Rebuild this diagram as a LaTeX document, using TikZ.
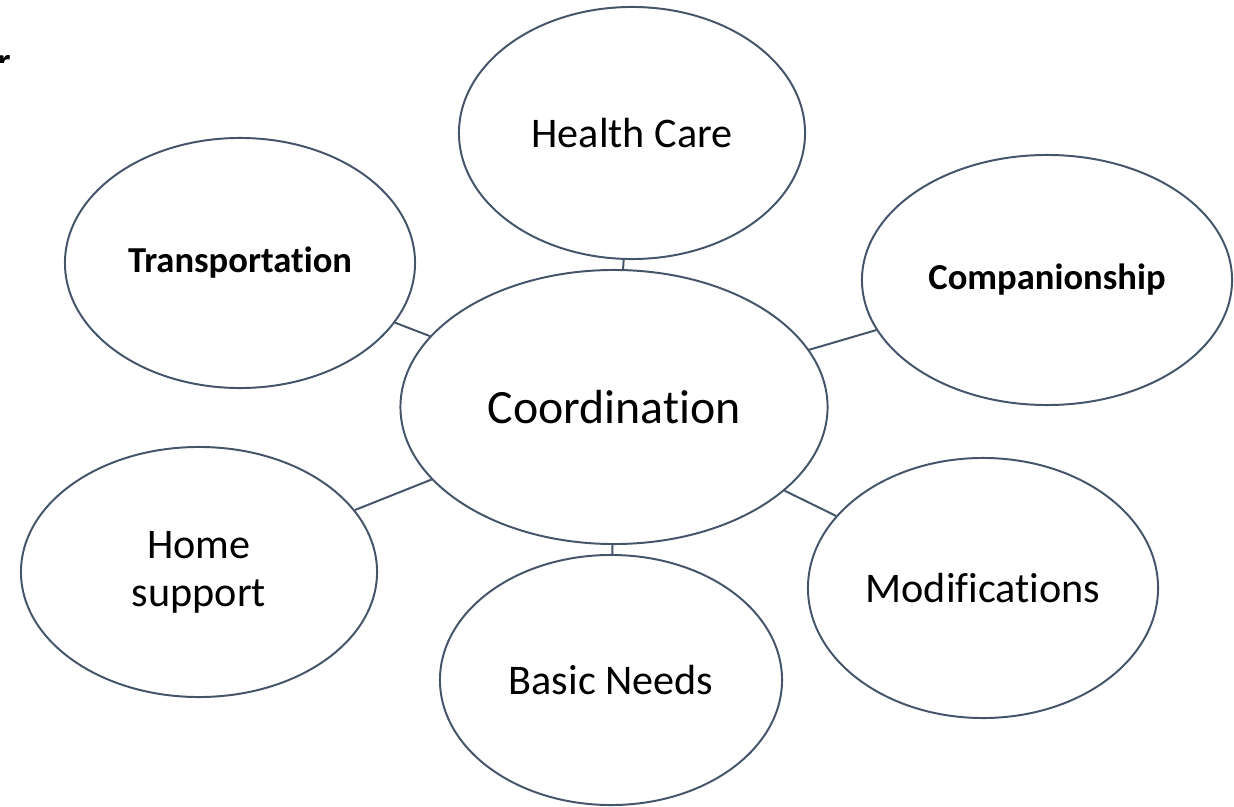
\documentclass[tikz,border=0pt]{standalone}
\usepackage{fontspec}
\setmainfont{Carlito}[Ligatures=NoCommon]
\usepackage{tikz}
\usetikzlibrary{shapes.geometric}
\definecolor{rim}{HTML}{44546A}

\begin{document}
\begin{tikzpicture}[x=0.025cm,y=-0.025cm,inner sep=0mm,
  bubble/.style={ellipse,draw=rim,line width=1.4pt,align=center,font=\fontsize{30}{34}\selectfont},
  boldbubble/.style={bubble,font=\fontsize{26}{30}\selectfont\bfseries},
  link/.style={draw=rim,line width=1.4pt}]
\useasboundingbox (0,0) rectangle (1234,807);
%Node Coordinates
\node at (614,407) [bubble,minimum width=10.675cm,minimum height=6.85cm,font=\fontsize{34}{40}\selectfont] (Coord) {Coordination};
\node at (632,133) [bubble,minimum width=8.65cm,minimum height=6.3cm] (Health) {Health Care};
\node at (240,263) [boldbubble,minimum width=8.75cm,minimum height=6.25cm] (Trans) {Transportation};
\node at (1047,280) [boldbubble,minimum width=9.25cm,minimum height=6.25cm] (Comp) {Companionship};
\node at (199,572) [bubble,minimum width=8.9cm,minimum height=6.25cm] (Home) {Home\\support};
\node at (983,588) [bubble,minimum width=8.75cm,minimum height=6.5cm] (Mod) {Modifications};
\node at (611,680) [bubble,minimum width=8.55cm,minimum height=6.25cm] (Basic) {Basic Needs};

%Stray letter at the edge, cut off
\begin{scope}
\clip (0,0) rectangle (20,63);
\node [anchor=base east,font=\fontsize{26}{30}\selectfont\bfseries] at (11,74) (Edge) {r};
\end{scope}

%Connections
\draw [link] (Coord) -- (Health);
\draw [link] (Coord) -- (Trans);
\draw [link] (Coord) -- (Comp);
\draw [link] (Coord) -- (Home);
\draw [link] (Coord) -- (Mod);
\draw [link] (Coord) -- (Basic);
\end{tikzpicture}
\end{document}
